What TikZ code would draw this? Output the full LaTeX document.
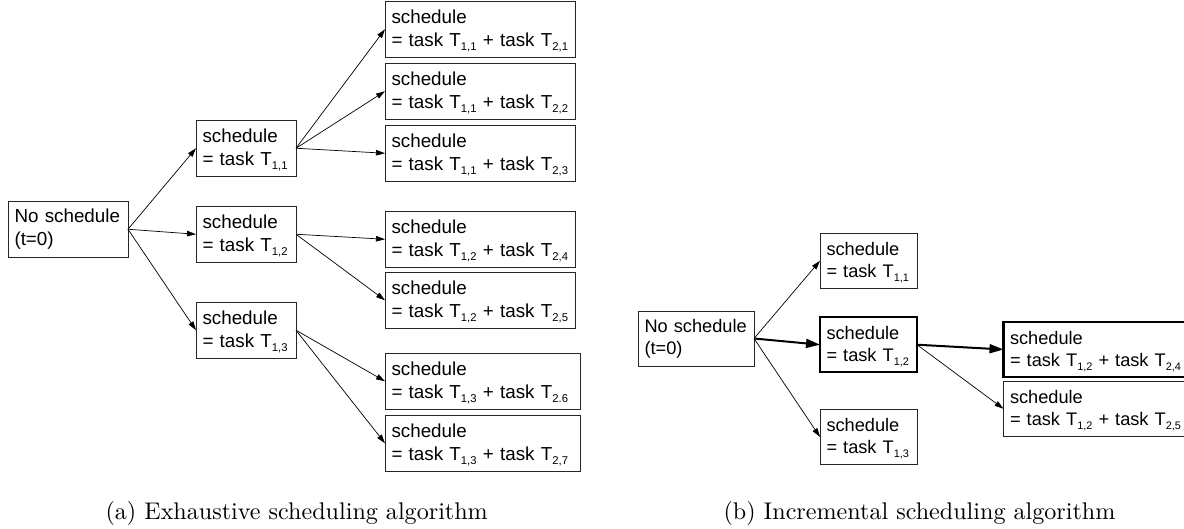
\documentclass[tikz,border=0pt]{standalone}
\usepackage{fontspec}
\usepackage{graphicx}
\usetikzlibrary{arrows.meta}

\newfontfamily\arialfont{Liberation Sans}
% lowered, smaller index as in T_{1,2}
\newcommand{\tsub}[1]{\raisebox{-0.22em}[0pt][0.1em]{\scalebox{0.6}{#1}}}

\begin{document}
\begin{tikzpicture}[
    x=1pt, y=-1pt,
    >={Triangle[length=9pt, width=5.5pt]},
    sched/.style={draw=black!85, line width=0.8pt, anchor=north west, outer sep=0pt,
        align=left, inner xsep=6.5pt, inner ysep=0pt},
    treeA/.style={sched, font=\arialfont\fontsize{18.8}{23}\selectfont, minimum height=56.5pt},
    treeB/.style={sched, font=\arialfont\fontsize{18.2}{22.3}\selectfont, minimum height=55pt},
    chosen/.style={draw=black, line width=2.4pt},
    link/.style={->, line width=0.7pt},
    bestlink/.style={-{Triangle[length=14pt, width=9pt]}, line width=2pt},
    caption/.style={anchor=base west, scale=2.41},
]
\useasboundingbox (0,0) rectangle (1184,529);

% === (a) exhaustive tree ===
\node[treeA, text width=107pt] (a0) at (8,201) {No schedule\\(t=0)};

\node[treeA, text width=87pt] (a11) at (196,120) {schedule\\= task T\tsub{1,1}};
\node[treeA, text width=87pt] (a12) at (196,206) {schedule\\= task T\tsub{1,2}};
\node[treeA, text width=87pt] (a13) at (196,302) {schedule\\= task T\tsub{1,3}};

\node[treeA, text width=177pt] (a21) at (385,1)   {schedule\\= task T\tsub{1,1} + task T\tsub{2,1}};
\node[treeA, text width=177pt] (a22) at (385,63)  {schedule\\= task T\tsub{1,1} + task T\tsub{2,2}};
\node[treeA, text width=177pt] (a23) at (385,125) {schedule\\= task T\tsub{1,1} + task T\tsub{2,3}};
\node[treeA, text width=177pt] (a24) at (385,211) {schedule\\= task T\tsub{1,2} + task T\tsub{2,4}};
\node[treeA, text width=177pt] (a25) at (385,272) {schedule\\= task T\tsub{1,2} + task T\tsub{2,5}};
\node[treeA, text width=182pt] (a26) at (385,353) {schedule\\= task T\tsub{1,3} + task T\tsub{2.6}};
\node[treeA, text width=182pt] (a27) at (385,415) {schedule\\= task T\tsub{1,3} + task T\tsub{2,7}};

\foreach \n in {a11,a12,a13}
    \draw[link] (a0.east) -- (\n.west);
\foreach \n in {a21,a22,a23}
    \draw[link] (a11.east) -- (\n.west);
\foreach \n in {a24,a25}
    \draw[link] (a12.east) -- (\n.west);
\foreach \n in {a26,a27}
    \draw[link] (a13.east) -- (\n.west);

% === (b) incremental tree ===
\node[treeB, text width=103pt] (b0) at (638,311) {No schedule\\(t=0)};

\node[treeB, text width=84pt] (b11) at (820,233.3) {schedule\\= task T\tsub{1,1}};
\node[treeB, text width=84pt, chosen] (b12) at (820,317.2) {schedule\\= task T\tsub{1,2}};
\node[treeB, text width=84pt] (b13) at (820,409.5) {schedule\\= task T\tsub{1,3}};

\node[treeB, text width=177pt, chosen] (b24) at (1003.5,322) {schedule\\= task T\tsub{1,2} + task T\tsub{2,4}};
\node[treeB, text width=177pt] (b25) at (1003.5,381.3) {schedule\\= task T\tsub{1,2} + task T\tsub{2,5}};

\draw[link] (b0.east) -- (b11.west);
\draw[bestlink] (b0.east) -- (b12.west);
\draw[link] (b0.east) -- (b13.west);
\draw[bestlink] (b12.east) -- (b24.west);
\draw[link] (b12.east) -- (b25.west);

% === captions ===
\node[caption] (capa) at (97,519) {(a) Exhaustive scheduling algorithm};
\node[caption] (capb) at (715,519) {(b) Incremental scheduling algorithm};

\end{tikzpicture}
\end{document}
